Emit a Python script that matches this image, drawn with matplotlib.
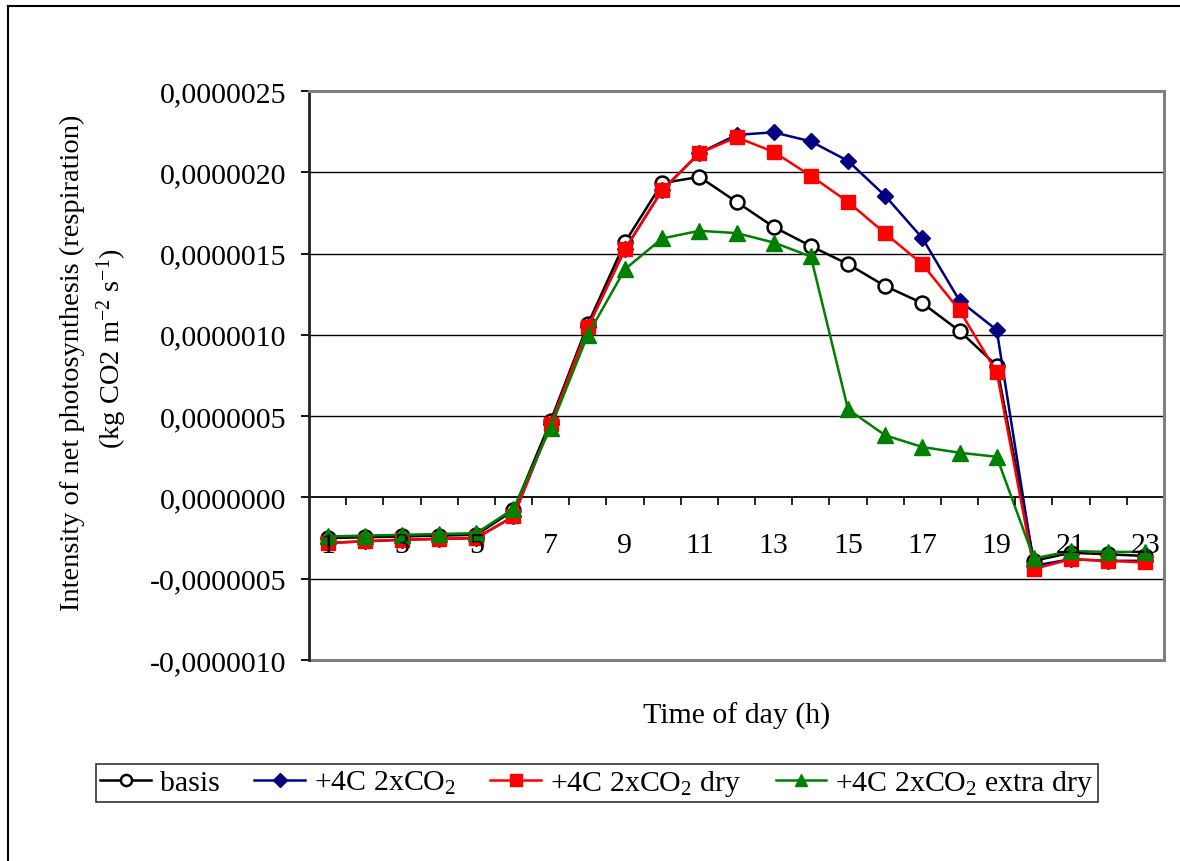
import matplotlib
matplotlib.use("Agg")
import matplotlib.pyplot as plt
from matplotlib.lines import Line2D
from matplotlib.ticker import FixedLocator, FuncFormatter

plt.rcParams['font.family'] = ['Liberation Serif', 'DejaVu Serif']
plt.rcParams['mathtext.fontset'] = 'custom'
plt.rcParams['mathtext.rm'] = 'Liberation Serif'
plt.rcParams['mathtext.it'] = 'Liberation Serif:italic'

hours = list(range(1, 24))
basis = [-2.50e-7, -2.45e-7, -2.40e-7, -2.35e-7, -2.30e-7, -0.80e-7, 4.70e-7, 10.65e-7,
         15.70e-7, 19.33e-7, 19.72e-7, 18.18e-7, 16.64e-7, 15.46e-7, 14.35e-7, 13.00e-7,
         11.95e-7, 10.24e-7, 8.10e-7, -3.90e-7, -3.40e-7, -3.50e-7, -3.60e-7]
co2 = [-2.80e-7, -2.70e-7, -2.60e-7, -2.55e-7, -2.50e-7, -1.17e-7, 4.50e-7, 10.47e-7,
       15.27e-7, 18.90e-7, 21.18e-7, 22.30e-7, 22.46e-7, 21.90e-7, 20.70e-7, 18.55e-7,
       15.95e-7, 12.10e-7, 10.30e-7, -4.20e-7, -3.80e-7, -3.90e-7, -3.90e-7]
co2_dry = [-2.80e-7, -2.70e-7, -2.60e-7, -2.55e-7, -2.50e-7, -1.17e-7, 4.50e-7, 10.47e-7,
           15.27e-7, 18.90e-7, 21.18e-7, 22.15e-7, 21.26e-7, 19.78e-7, 18.18e-7, 16.24e-7,
           14.35e-7, 11.51e-7, 7.70e-7, -4.40e-7, -3.80e-7, -3.90e-7, -4.00e-7]
co2_xdry = [-2.40e-7, -2.35e-7, -2.30e-7, -2.25e-7, -2.20e-7, -0.70e-7, 4.30e-7, 10.00e-7,
            14.04e-7, 15.93e-7, 16.40e-7, 16.26e-7, 15.68e-7, 14.82e-7, 5.42e-7, 3.82e-7,
            3.10e-7, 2.75e-7, 2.50e-7, -3.75e-7, -3.30e-7, -3.35e-7, -3.35e-7]
labels = ['basis', r'+4C 2xCO$_\mathregular{2}$', r'+4C 2xCO$_\mathregular{2}$ dry',
          r'+4C 2xCO$_\mathregular{2}$ extra dry']
yticks = [-1.0e-6, -0.5e-6, 0.0, 0.5e-6, 1.0e-6, 1.5e-6, 2.0e-6, 2.5e-6]
xticklabels = [str(h) for h in range(1, 24, 2)]

W, H = 1180, 862
fig = plt.figure(figsize=(W / 100, H / 100), dpi=100)
ax = fig.add_axes([309 / W, 1 - 661 / H, (1164 - 309) / W, (661 - 92) / H])

fs = 21.5
lw = 1.8
ax.plot(hours, basis, color='black', lw=lw, marker='o', ms=10, mfc='white', mec='black',
        mew=1.8, label=labels[0], zorder=3)
ax.plot(hours, co2, color='#000080', lw=lw, marker='D', ms=8.5, mfc='#000080', mec='#000080',
        label=labels[1], zorder=4)
ax.plot(hours, co2_dry, color='#FF0000', lw=lw, marker='s', ms=10.5, mfc='#FF0000', mec='#FF0000',
        label=labels[2], zorder=5)
ax.plot(hours, co2_xdry, color='#008000', lw=lw, marker='^', ms=11, mfc='#008000', mec='#008000',
        label=labels[3], zorder=6)

ax.set_xlim(0.5, 23.5)
ax.set_ylim(-1.0e-6, 2.5e-6)

# grid lines
for v in yticks[1:-1]:
    if v != 0.0:
        ax.axhline(v, color='black', lw=1.0, zorder=1)

# spines
ax.spines['left'].set_color('#222222')
ax.spines['left'].set_linewidth(2.0)
for s in ['top', 'right']:
    ax.spines[s].set_color('#808080')
    ax.spines[s].set_linewidth(2.2)
ax.spines['bottom'].set_position(('data', 0.0))
ax.spines['bottom'].set_color('black')
ax.spines['bottom'].set_linewidth(1.3)
ax.spines['bottom'].set_zorder(2)
ax.add_line(Line2D([0, 1], [0, 0], transform=ax.transAxes, color='#808080', lw=2.2,
                   clip_on=False, zorder=2))

ax.yaxis.set_major_locator(FixedLocator(yticks))
ax.yaxis.set_major_formatter(FuncFormatter(lambda v, p: f"{v:.7f}".replace('.', ',').replace('-0,0000000', '0,0000000')))
ax.tick_params(axis='y', direction='out', length=6, width=1.3, pad=10, labelsize=fs, colors='black')

ax.xaxis.set_major_locator(FixedLocator(list(range(1, 24, 2))))
ax.set_xticklabels(xticklabels)
ax.xaxis.set_minor_locator(FixedLocator([h + 0.5 for h in range(1, 23)]))
ax.tick_params(axis='x', which='major', length=0, pad=25, labelsize=fs)
ax.tick_params(axis='x', which='minor', direction='out', length=6, width=1.2)
ax.xaxis.set_zorder(10)

fig.text(737 / W, 1 - 716 / H, 'Time of day (h)', ha='center', va='center', fontsize=fs)
fig.text(72 / W, 1 - 363 / H, 'Intensity of net photosynthesis (respiration)', rotation=90,
         ha='center', va='center', fontsize=20.5)
fig.text(112 / W, 1 - 349 / H, r'(kg CO2 m$^{\mathregular{-2}}$ s$^{\mathregular{-1}}$)',
         rotation=90, ha='center', va='center', fontsize=20.5)

leg = fig.legend(loc='center', bbox_to_anchor=(597 / W, 1 - 784 / H), ncol=4, fontsize=fs,
                 frameon=True, fancybox=False, edgecolor='black', handlelength=1.7,
                 handletextpad=0.3, columnspacing=1.15, borderpad=0.15, markerscale=0.8)
leg.get_frame().set_linewidth(1.2)

# outer chart-area border (top and left visible)
fig.add_artist(Line2D([8 / W, 1.0], [1 - 7 / H, 1 - 7 / H], transform=fig.transFigure,
                      color='black', lw=1.5))
fig.add_artist(Line2D([8 / W, 8 / W], [1 - 7 / H, 0.0], transform=fig.transFigure,
                      color='black', lw=1.5))

fig.savefig('out.png', dpi=100, facecolor='white')
